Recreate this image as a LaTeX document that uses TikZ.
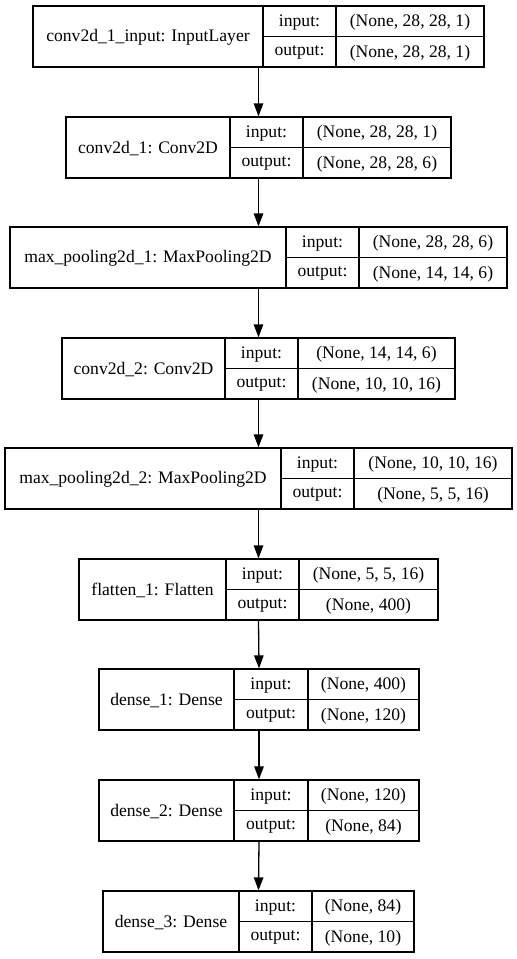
\documentclass[tikz,border=0pt]{standalone}
\usepackage{fontspec}
\setmainfont{Liberation Serif}
\usetikzlibrary{arrows.meta}
\tikzset{
  layerbox/.style={draw=black, line width=1.3pt, inner sep=0pt, minimum height=61pt},
  celltext/.style={inner sep=0pt, font=\fontsize{17.6}{20}\selectfont, text=black},
  arr/.style={-{Triangle[length=13pt,width=9.5pt]}, line width=1.3pt, draw=black},
  divider/.style={line width=1.3pt, draw=black}
}
% #1 id, #2 x0, #3 x1, #4 x2, #5 x3, #6 ytop, #7 name, #8 in, #9 out
\newcommand{\layerrow}[9]{%
  \node[layerbox, minimum width={(#5-#2)*1pt}] (#1) at ({(#2+#5)/2},{#6+30.5}) {};
  \draw[divider] ({#3},{#6}) -- ({#3},{#6+61});
  \draw[divider] ({#4},{#6}) -- ({#4},{#6+61});
  \draw[divider] ({#3},{#6+30.5}) -- ({#5},{#6+30.5});
  \node[celltext] (#1-name) at ({(#2+#3)/2},{#6+31.5}) {#7};
  \node[celltext] (#1-inlab) at ({(#3+#4)/2},{#6+16.3}) {input:};
  \node[celltext] (#1-outlab) at ({(#3+#4)/2},{#6+46.8}) {output:};
  \node[celltext] (#1-inval) at ({(#4+#5)/2},{#6+16.3}) {#8};
  \node[celltext] (#1-outval) at ({(#4+#5)/2},{#6+46.8}) {#9};
}
\begin{document}
\begin{tikzpicture}[x=1pt,y=-1pt]
\useasboundingbox[fill=white] (0,0) rectangle (517,959);
\layerrow{L1}{33}{263}{336}{484}{6}{conv2d\_1\_input: InputLayer}{(None, 28, 28, 1)}{(None, 28, 28, 1)}
\layerrow{L2}{66}{230}{303}{451}{117}{conv2d\_1: Conv2D}{(None, 28, 28, 1)}{(None, 28, 28, 6)}
\layerrow{L3}{10}{286}{359}{507}{227}{max\_pooling2d\_1: MaxPooling2D}{(None, 28, 28, 6)}{(None, 14, 14, 6)}
\layerrow{L4}{62}{225}{298}{455}{338}{conv2d\_2: Conv2D}{(None, 14, 14, 6)}{(None, 10, 10, 16)}
\layerrow{L5}{5}{281}{354}{512}{448}{max\_pooling2d\_2: MaxPooling2D}{(None, 10, 10, 16)}{(None, 5, 5, 16)}
\layerrow{L6}{79}{226}{299}{438}{559}{flatten\_1: Flatten}{(None, 5, 5, 16)}{(None, 400)}
\layerrow{L7}{99}{234}{308}{419}{669}{dense\_1: Dense}{(None, 400)}{(None, 120)}
\layerrow{L8}{99}{234}{308}{419}{780}{dense\_2: Dense}{(None, 120)}{(None, 84)}
\layerrow{L9}{103}{239}{312}{414}{891}{dense\_3: Dense}{(None, 84)}{(None, 10)}
\draw[arr] (L1.south) -- (L2.north);
\draw[arr] (L2.south) -- (L3.north);
\draw[arr] (L3.south) -- (L4.north);
\draw[arr] (L4.south) -- (L5.north);
\draw[arr] (L5.south) -- (L6.north);
\draw[arr] (L6.south) -- (L7.north);
\draw[arr] (L7.south) -- (L8.north);
\draw[arr] (L8.south) -- (L9.north);
\end{tikzpicture}
\end{document}
